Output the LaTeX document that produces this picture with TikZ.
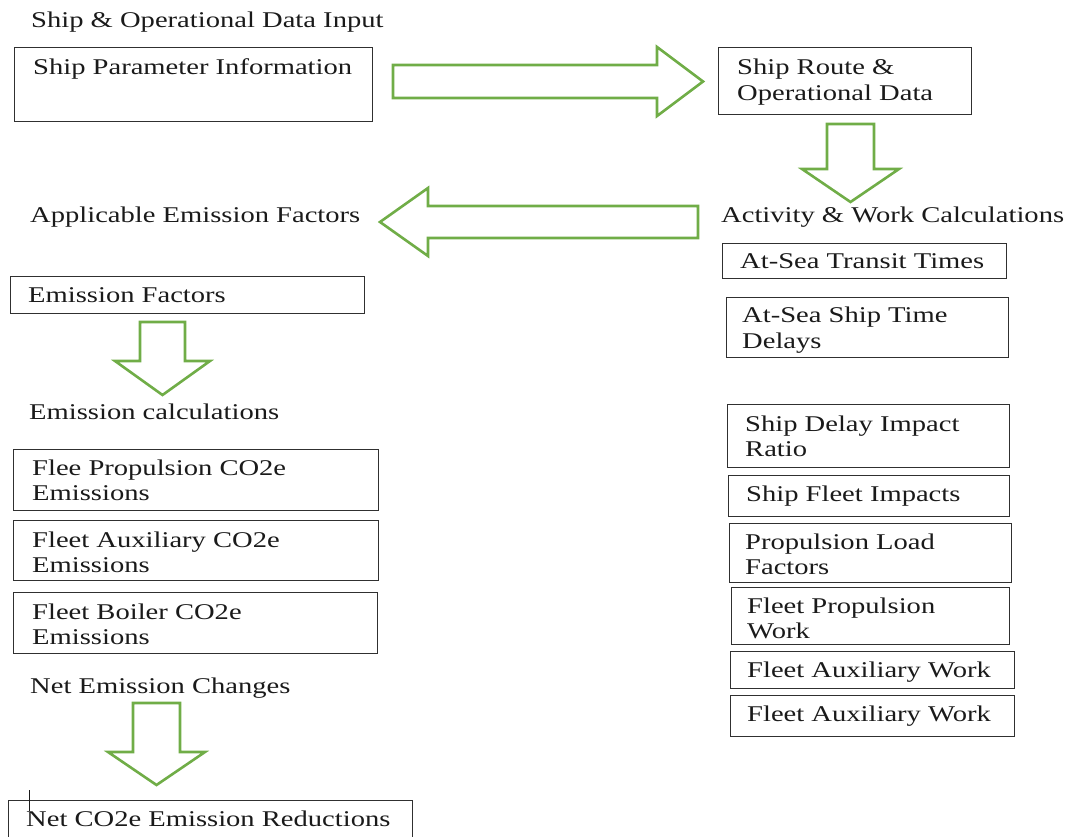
\documentclass[tikz,border=0pt]{standalone}
\usepackage{fontspec}
\setmainfont{Liberation Serif}[FakeStretch=1.27]
\definecolor{arrowgreen}{HTML}{70AD47}
\definecolor{ink}{HTML}{1A1A1A}
\definecolor{frame}{HTML}{303030}
\tikzset{
  boxst/.style={draw=frame, line width=1.4pt, inner sep=0pt, anchor=north west},
  txt/.style={text=ink, inner sep=0pt, anchor=base west, yshift=-2pt,
    font=\fontsize{22.5}{25.9}\selectfont},
  blockarrow/.style={draw=arrowgreen, line width=2.6pt, line join=miter, fill=white}
}
% a framed box given by its corners (pixels, y downwards)
\newcommand{\stagebox}[5]{%
  \pgfmathsetmacro{\bw}{#4-#2}\pgfmathsetmacro{\bh}{#5-#3}%
  \node[boxst, minimum width=\bw pt, minimum height=\bh pt] (#1) at (#2,#3) {};}
% a left-aligned text block whose first baseline sits at the given point
\newcommand{\blocktext}[4]{%
  \node[txt] (#1) at (#2,#3) {\parbox[t]{600pt}{\raggedright #4}};}
\begin{document}
\begin{tikzpicture}[x=1pt, y=-1pt]
\useasboundingbox (0,0) rectangle (1072,837);

% ---- input stage ----
\blocktext{tIn}{31}{26}{Ship \& Operational Data Input}
\stagebox{spi}{14}{47}{372}{121}
\blocktext{tSpi}{33}{73}{Ship Parameter Information}
\stagebox{route}{718}{47}{971}{114}
\blocktext{tRoute}{737}{73}{Ship Route \&\\Operational Data}

% ---- activity & work ----
\blocktext{tAct}{721}{221}{Activity \& Work Calculations}
\stagebox{transit}{722}{243}{1006}{278}
\blocktext{tTransit}{740}{267}{At-Sea Transit Times}
\stagebox{delays}{726}{297}{1008}{357}
\blocktext{tDelays}{742}{321}{At-Sea Ship Time\\Delays}
\stagebox{ratio}{727}{404}{1009}{467}
\blocktext{tRatio}{745}{429}{Ship Delay Impact\\Ratio}
\stagebox{impacts}{728}{475}{1009}{516}
\blocktext{tImpacts}{746}{499}{Ship Fleet Impacts}
\stagebox{load}{729}{523}{1011}{582}
\blocktext{tLoad}{745}{547}{Propulsion Load\\Factors}
\stagebox{propw}{731}{587}{1009}{644}
\blocktext{tPropw}{747}{611}{Fleet Propulsion\\Work}
\stagebox{auxw}{730}{651}{1014}{688}
\blocktext{tAuxw}{747}{675}{Fleet Auxiliary Work}
\stagebox{auxwb}{730}{695}{1014}{736}
\blocktext{tAuxwb}{747}{719}{Fleet Auxiliary Work}

% ---- emission factors ----
\blocktext{tApp}{30}{221}{Applicable Emission Factors}
\stagebox{ef}{10}{276}{364}{313}
\blocktext{tEf}{28}{301}{Emission Factors}

% ---- emission calculations ----
\blocktext{tCalc}{29}{417}{Emission calculations}
\stagebox{flee}{13}{449}{378}{510}
\blocktext{tFlee}{32}{473}{Flee Propulsion CO2e\\Emissions}
\stagebox{auxe}{13}{520}{378}{580}
\blocktext{tAuxe}{32}{545}{Fleet Auxiliary CO2e\\Emissions}
\stagebox{boil}{13}{592}{377}{653}
\blocktext{tBoil}{32}{617}{Fleet Boiler CO2e\\Emissions}

% ---- net result ----
\blocktext{tNet}{30}{691}{Net Emission Changes}
\stagebox{netred}{8}{800}{412}{840}
\blocktext{tNetred}{26}{824}{Net CO2e Emission Reductions}
\coordinate (caretTop) at (29,790);
\coordinate (caretBot) at (29,811);
\draw[ink, line width=1pt] (caretTop) -- (caretBot);

% ---- block arrows ----
\draw[blockarrow] (393,65) -- (657,65) -- (657,47) -- (703,81.5) -- (657,116) -- (657,98) -- (393,98) -- cycle;
\draw[blockarrow] (827,124) -- (874,124) -- (874,169) -- (899,169) -- (850.5,202) -- (802,169) -- (827,169) -- cycle;
\draw[blockarrow] (698,206) -- (428,206) -- (428,188) -- (380,222) -- (428,256) -- (428,238) -- (698,238) -- cycle;
\draw[blockarrow] (140,322) -- (185,322) -- (185,361) -- (210,361) -- (162.5,395) -- (115,361) -- (140,361) -- cycle;
\draw[blockarrow] (133,703) -- (180,703) -- (180,752) -- (205,752) -- (156.5,785) -- (108,752) -- (133,752) -- cycle;
\end{tikzpicture}
\end{document}
